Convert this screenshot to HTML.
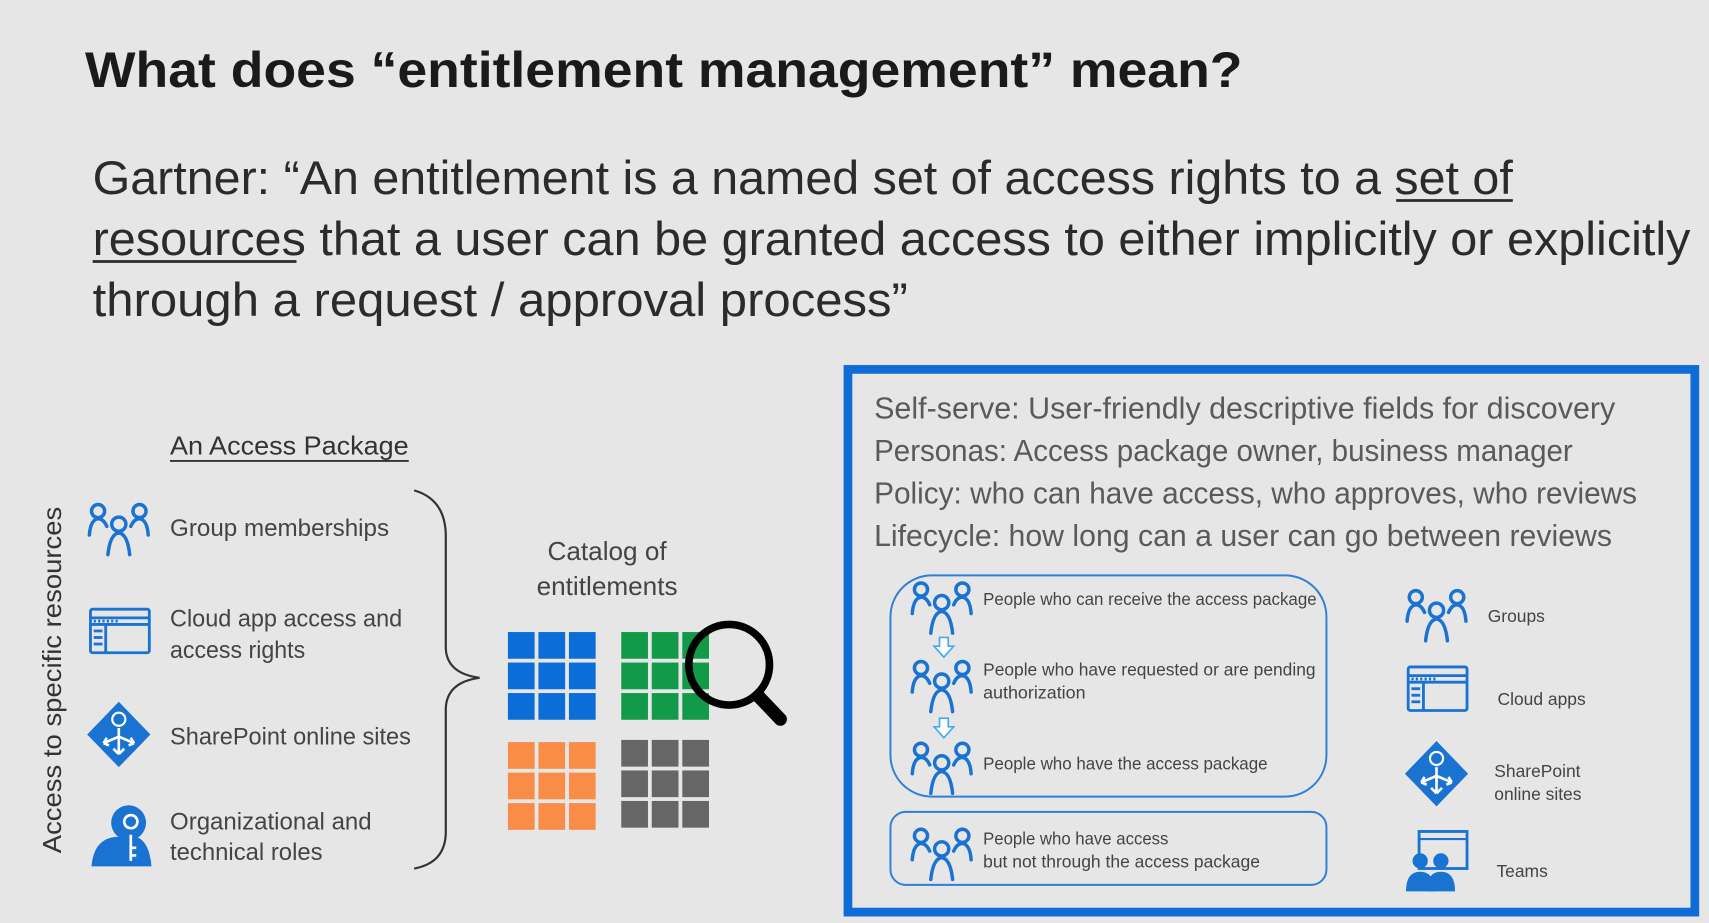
<!DOCTYPE html>
<html><head><meta charset="utf-8"><style>
html,body{margin:0;padding:0;background:#e6e6e6;}
svg{display:block;}
text{font-family:"Liberation Sans",sans-serif;}
</style></head><body>
<svg width="1709" height="923" viewBox="0 0 1568 847" preserveAspectRatio="none" xmlns="http://www.w3.org/2000/svg">
<defs>
<g id="ppl" fill="none" stroke="#1a73d1" stroke-width="3.2" stroke-linecap="round">
<circle cx="9" cy="8" r="6"/><circle cx="47" cy="8" r="6"/><circle cx="28" cy="20" r="6.5"/>
<path d="M1 30 Q2 16 9 15 Q14 15 17 22"/><path d="M55 30 Q54 16 47 15 Q42 15 39 22"/>
<path d="M18 48 Q20 29 28 28 Q36 29 38 48"/>
</g>
<g id="app" fill="none" stroke="#1a73d1" stroke-width="2.6">
<rect x="1" y="1" width="54" height="40" rx="2"/><line x1="1" y1="9" x2="55" y2="9"/><line x1="1" y1="15" x2="55" y2="15"/><line x1="15" y1="15" x2="15" y2="41"/>
<line x1="4" y1="12" x2="26" y2="12" stroke-dasharray="2 2"/><line x1="4" y1="21" x2="12" y2="21"/><line x1="4" y1="27" x2="12" y2="27"/><line x1="4" y1="33" x2="12" y2="33"/>
</g>
<g id="sp">
<path d="M29 0 L58 30 L29 60 L0 30 Z" fill="#1a73d1"/>
<circle cx="29" cy="16" r="6" fill="none" stroke="#fff" stroke-width="2"/>
<path d="M29 24 V48 M29 48 l-5 -5 M29 48 l5 -5 M29 32 L15 38 M15 38 l3 -5 M15 38 l5 2 M29 32 L43 38 M43 38 l-3 -5 M43 38 l-5 2" stroke="#fff" stroke-width="2.4" fill="none"/>
</g>
</defs>
<rect width="1568" height="847" fill="#e6e6e6"/>
<text x="78" y="80" font-size="46" font-weight="bold" fill="#1a1a1a" textLength="1062" lengthAdjust="spacingAndGlyphs">What does “entitlement management” mean?</text>
<g font-size="43" fill="#2b2b2b">
<text x="85" y="178" textLength="1303" lengthAdjust="spacingAndGlyphs">Gartner: “An entitlement is a named set of access rights to a set of</text>
<text x="85" y="234" textLength="1466" lengthAdjust="spacingAndGlyphs">resources that a user can be granted access to either implicitly or explicitly</text>
<text x="85" y="290" textLength="748" lengthAdjust="spacingAndGlyphs">through a request / approval process”</text>
</g>
<line x1="1281" y1="184" x2="1388" y2="184" stroke="#2b2b2b" stroke-width="2.5"/>
<line x1="85" y1="240" x2="272" y2="240" stroke="#2b2b2b" stroke-width="2.5"/>

<!-- left -->
<text x="156" y="417" font-size="24" fill="#333" textLength="219" lengthAdjust="spacingAndGlyphs">An Access Package</text>
<line x1="156" y1="423" x2="375" y2="423" stroke="#333" stroke-width="1.8"/>
<text transform="translate(56,624) rotate(-90)" text-anchor="middle" font-size="24" fill="#333" textLength="318" lengthAdjust="spacingAndGlyphs">Access to specific resources</text>
<use href="#ppl" x="81" y="461"/>
<use href="#app" x="82" y="558"/>
<use href="#sp" x="80" y="644"/>
<g fill="#1a73d1"><circle cx="118" cy="755" r="16"/><path d="M84 795 Q86 770 106 768 L125 768 Q137 772 139 795 Z"/></g>
<path d="M120 760 a6 6 0 1 1 0.1 0 M120 766 V790 M120 778 h5 M120 785 h5" stroke="#fff" stroke-width="2.5" fill="none"/>
<g font-size="22" fill="#444">
<text x="156" y="492" textLength="201" lengthAdjust="spacingAndGlyphs">Group memberships</text>
<text x="156" y="575" textLength="213" lengthAdjust="spacingAndGlyphs">Cloud app access and</text>
<text x="156" y="604" textLength="124" lengthAdjust="spacingAndGlyphs">access rights</text>
<text x="156" y="683" textLength="221" lengthAdjust="spacingAndGlyphs">SharePoint online sites</text>
<text x="156" y="761" textLength="185" lengthAdjust="spacingAndGlyphs">Organizational and</text>
<text x="156" y="789" textLength="140" lengthAdjust="spacingAndGlyphs">technical roles</text>
</g>
<path d="M380 450 Q408 458 409 490 L409 595 Q410 618 440 622 Q410 626 409 650 L409 765 Q408 792 380 797" fill="none" stroke="#333" stroke-width="2"/>
<g font-size="24" fill="#444" text-anchor="middle">
<text x="557" y="514">Catalog of</text>
<text x="557" y="546">entitlements</text>
</g>
<g id="grid">
<rect x="466" y="580" width="24.5" height="24.5" fill="#0b6ed8"/><rect x="494" y="580" width="24.5" height="24.5" fill="#0b6ed8"/><rect x="522" y="580" width="24.5" height="24.5" fill="#0b6ed8"/>
<rect x="466" y="608" width="24.5" height="24.5" fill="#0b6ed8"/><rect x="494" y="608" width="24.5" height="24.5" fill="#0b6ed8"/><rect x="522" y="608" width="24.5" height="24.5" fill="#0b6ed8"/>
<rect x="466" y="636" width="24.5" height="24.5" fill="#0b6ed8"/><rect x="494" y="636" width="24.5" height="24.5" fill="#0b6ed8"/><rect x="522" y="636" width="24.5" height="24.5" fill="#0b6ed8"/>
</g>
<g fill="#139a48">
<rect x="570" y="580" width="24.5" height="24.5"/><rect x="598" y="580" width="24.5" height="24.5"/><rect x="626" y="580" width="24.5" height="24.5"/>
<rect x="570" y="608" width="24.5" height="24.5"/><rect x="598" y="608" width="24.5" height="24.5"/><rect x="626" y="608" width="24.5" height="24.5"/>
<rect x="570" y="636" width="24.5" height="24.5"/><rect x="598" y="636" width="24.5" height="24.5"/><rect x="626" y="636" width="24.5" height="24.5"/>
</g>
<g fill="#f98c46">
<rect x="466" y="681" width="24.5" height="24.5"/><rect x="494" y="681" width="24.5" height="24.5"/><rect x="522" y="681" width="24.5" height="24.5"/>
<rect x="466" y="709" width="24.5" height="24.5"/><rect x="494" y="709" width="24.5" height="24.5"/><rect x="522" y="709" width="24.5" height="24.5"/>
<rect x="466" y="737" width="24.5" height="24.5"/><rect x="494" y="737" width="24.5" height="24.5"/><rect x="522" y="737" width="24.5" height="24.5"/>
</g>
<g fill="#666">
<rect x="570" y="679" width="24.5" height="24.5"/><rect x="598" y="679" width="24.5" height="24.5"/><rect x="626" y="679" width="24.5" height="24.5"/>
<rect x="570" y="707" width="24.5" height="24.5"/><rect x="598" y="707" width="24.5" height="24.5"/><rect x="626" y="707" width="24.5" height="24.5"/>
<rect x="570" y="735" width="24.5" height="24.5"/><rect x="598" y="735" width="24.5" height="24.5"/><rect x="626" y="735" width="24.5" height="24.5"/>
</g>
<circle cx="669" cy="610" r="37" fill="none" stroke="#000" stroke-width="7"/>
<line x1="696" y1="639" x2="716" y2="660" stroke="#000" stroke-width="12" stroke-linecap="round"/>

<!-- right box -->
<rect x="778" y="339" width="777" height="498" fill="none" stroke="#0f6cd6" stroke-width="8"/>
<g font-size="28" fill="#5a5a5a">
<text x="802" y="384" textLength="680" lengthAdjust="spacingAndGlyphs">Self-serve: User-friendly descriptive fields for discovery</text>
<text x="802" y="423" textLength="641" lengthAdjust="spacingAndGlyphs">Personas: Access package owner, business manager</text>
<text x="802" y="462" textLength="700" lengthAdjust="spacingAndGlyphs">Policy: who can have access, who approves, who reviews</text>
<text x="802" y="501" textLength="677" lengthAdjust="spacingAndGlyphs">Lifecycle: how long can a user can go between reviews</text>
</g>
<rect x="817" y="528" width="400" height="203" rx="38" fill="none" stroke="#2f7fd6" stroke-width="1.8"/>
<rect x="817" y="745" width="400" height="67" rx="14" fill="none" stroke="#2f7fd6" stroke-width="1.8"/>
<use href="#ppl" x="836" y="533"/>
<use href="#ppl" x="836" y="605"/>
<use href="#ppl" x="836" y="680"/>
<use href="#ppl" x="836" y="759"/>
<path d="M862 585 h8 v8 h5 l-9 10 l-9 -10 h5 z M862 659 h8 v8 h5 l-9 10 l-9 -10 h5 z" fill="#fff" stroke="#4aa8e8" stroke-width="1.5"/>
<g font-size="16" fill="#444">
<text x="902" y="555" textLength="306" lengthAdjust="spacingAndGlyphs">People who can receive the access package</text>
<text x="902" y="620" textLength="305" lengthAdjust="spacingAndGlyphs">People who have requested or are pending</text>
<text x="902" y="641" textLength="94" lengthAdjust="spacingAndGlyphs">authorization</text>
<text x="902" y="706" textLength="261" lengthAdjust="spacingAndGlyphs">People who have the access package</text>
<text x="902" y="775" textLength="170" lengthAdjust="spacingAndGlyphs">People who have access</text>
<text x="902" y="796" textLength="254" lengthAdjust="spacingAndGlyphs">but not through the access package</text>
</g>
<use href="#ppl" x="1290" y="540"/>
<use href="#app" x="1291" y="611"/>
<use href="#sp" x="1289" y="680"/>
<g>
<rect x="1302" y="763" width="44" height="34" fill="none" stroke="#1a73d1" stroke-width="2.6"/>
<line x1="1302" y1="770" x2="1346" y2="770" stroke="#1a73d1" stroke-width="2"/>
<g fill="#1a73d1"><circle cx="1303" cy="790" r="7"/><circle cx="1322" cy="790" r="7"/>
<path d="M1290 818 Q1290 800 1303 800 Q1316 800 1316 818 Z"/><path d="M1309 818 Q1309 800 1322 800 Q1335 800 1335 818 Z"/></g>
</g>
<g font-size="16" fill="#444">
<text x="1365" y="571">Groups</text>
<text x="1374" y="647">Cloud apps</text>
<text x="1371" y="713">SharePoint</text>
<text x="1371" y="734">online sites</text>
<text x="1373" y="805">Teams</text>
</g>
</svg>
</body></html>
